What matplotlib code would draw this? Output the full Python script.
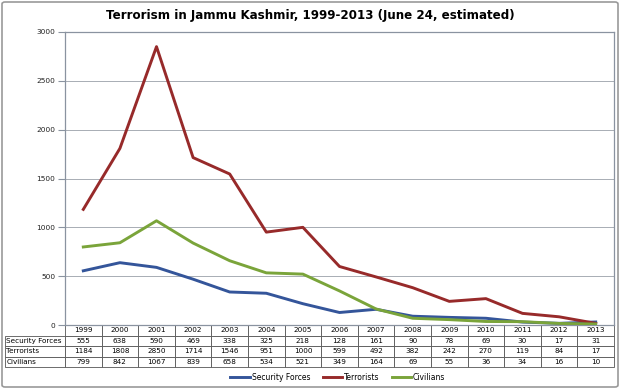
import matplotlib
matplotlib.use("Agg")
import matplotlib.pyplot as plt
from matplotlib.patches import FancyBboxPatch

# donnees
years = ["1999", "2000", "2001", "2002", "2003", "2004", "2005", "2006",
         "2007", "2008", "2009", "2010", "2011", "2012", "2013"]
security_forces = [555, 638, 590, 469, 338, 325, 218, 128, 161, 90, 78, 69, 30, 17, 31]
terrorists = [1184, 1808, 2850, 1714, 1546, 951, 1000, 599, 492, 382, 242, 270, 119, 84, 17]
civilians = [799, 842, 1067, 839, 658, 534, 521, 349, 164, 69, 55, 36, 34, 16, 10]
series_names = ["Security Forces", "Terrorists", "Civilians"]
colors = ["#34559a", "#972a2a", "#7aa43a"]

W, H = 620, 389
fig = plt.figure(figsize=(W / 100, H / 100), dpi=100)

# cadre gris autour de tout
frame = FancyBboxPatch((2 / W, 2 / H), 1 - 4 / W, 1 - 4 / H,
                       boxstyle="round,pad=0,rounding_size=0.005",
                       transform=fig.transFigure, facecolor="none",
                       edgecolor="#9a9a9a", linewidth=1.2)
fig.patches.append(frame)

left, right, top, bottom = 65, 614, 32, 325
ax = fig.add_axes([left / W, 1 - bottom / H, (right - left) / W, (bottom - top) / H])

x = list(range(len(years)))
all_series = [security_forces, terrorists, civilians]
for vals, name, c in zip(all_series, series_names, colors):
    ax.plot(x, vals, color=c, linewidth=2.1, label=name, zorder=3)

ax.set_xlim(-0.5, len(years) - 0.5)
ax.set_ylim(0, 3000)
ax.set_yticks(range(0, 3001, 500))
ax.tick_params(axis="y", labelsize=5.3, length=5, color="#8a93a0", pad=2, labelcolor="#222222")
ax.set_xticks([])
ax.yaxis.grid(True, color="#9aa0a8", linewidth=0.6)
ax.set_axisbelow(True)
for s in ax.spines.values():
    s.set_color("#8a93a0")
    s.set_linewidth(0.9)

# tableau de donnees sous le graphe
ax_w = right - left
ax_h = bottom - top
label_w = 60
cell_text = [[""] + years]
for name, vals in zip(series_names, all_series):
    cell_text.append([name] + [str(v) for v in vals])
tab = ax.table(cellText=cell_text, cellLoc="center",
               bbox=[-label_w / ax_w, -42 / ax_h, 1 + label_w / ax_w, 42 / ax_h])
tab.auto_set_font_size(False)
tab.set_fontsize(5.2)
for (r, c), cell in tab.get_celld().items():
    cell.set_linewidth(0.6)
    cell.set_edgecolor("#555555")
    if c == 0:
        cell.set_width(label_w / ax_w)
        cell._loc = "left"
        cell.get_text().set_ha("left")
        cell.PAD = 0.02
    else:
        cell.set_width(1 / len(years))
    if r == 0 and c == 0:
        cell.set_edgecolor("none")
        cell.visible_edges = ""

fig.legend(loc="center", bbox_to_anchor=(0.545, 1 - 377 / H), ncol=3, frameon=False,
           fontsize=5.5, handlelength=2.6, handletextpad=0.2, columnspacing=1.6)

fig.text(0.5, 1 - 16 / H, "Terrorism in Jammu Kashmir, 1999-2013 (June 24, estimated)",
         ha="center", va="center", fontsize=8.6, fontweight="bold")

fig.savefig("out.png", dpi=100)
